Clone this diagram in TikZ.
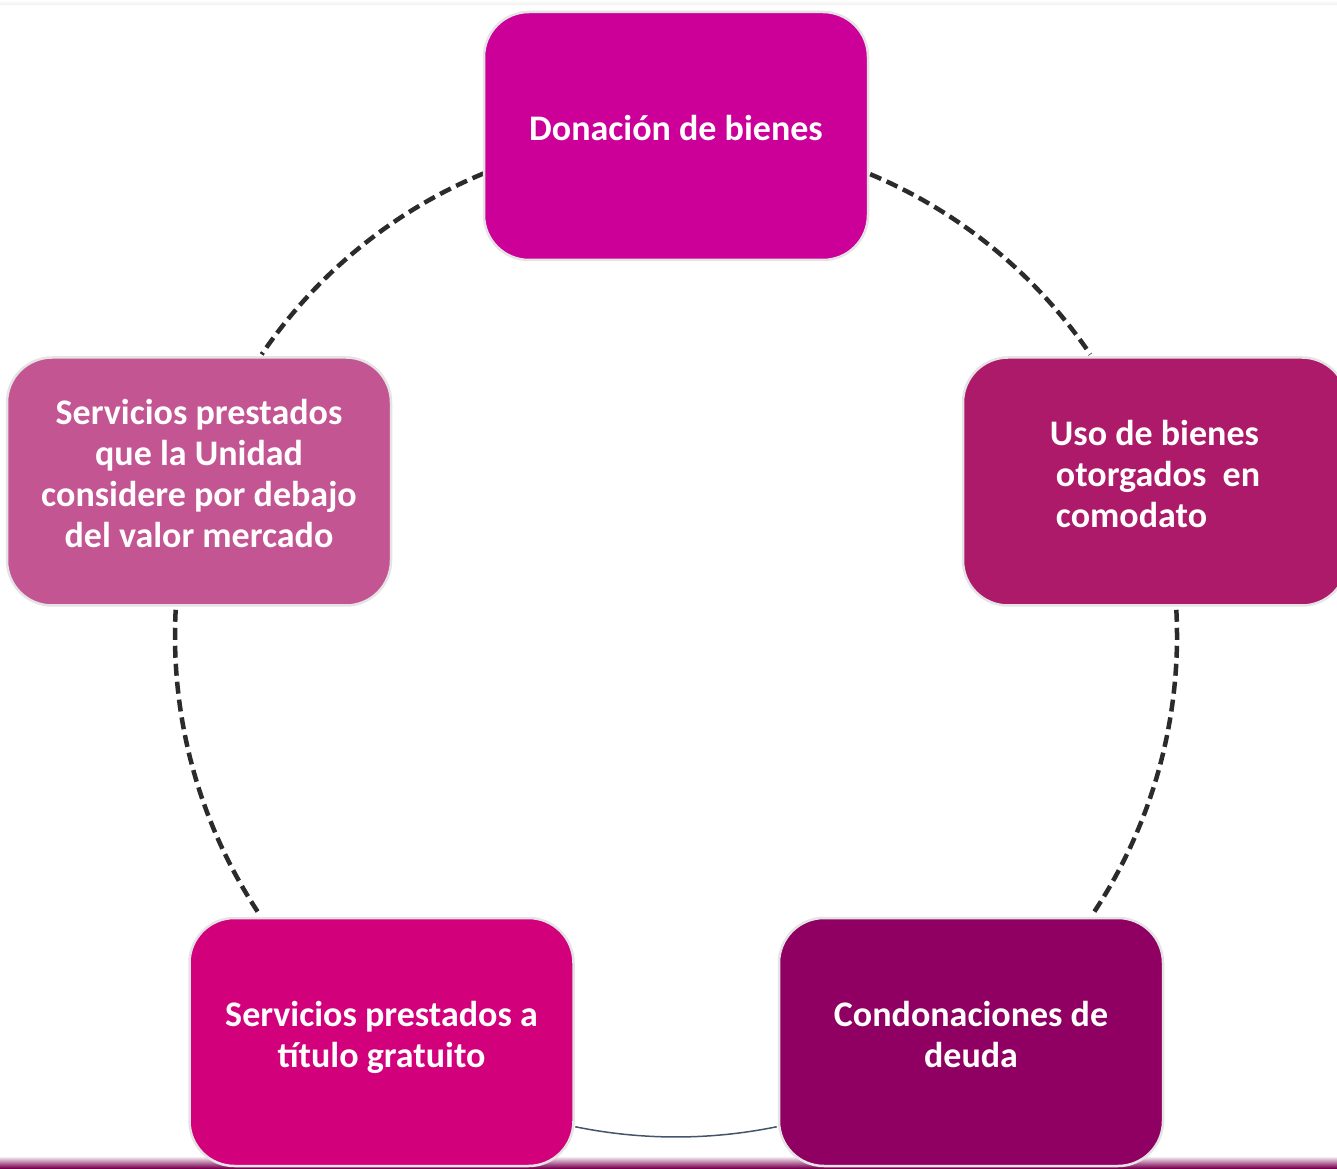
\documentclass[tikz,border=0pt]{standalone}
\usepackage{fontspec}
\setmainfont{Carlito}
\definecolor{donaColor}{HTML}{CC0099}
\definecolor{usoColor}{HTML}{AD1A6A}
\definecolor{condColor}{HTML}{900063}
\definecolor{gratColor}{HTML}{D3007C}
\definecolor{debaColor}{HTML}{C45593}
\definecolor{boxEdge}{HTML}{E4E4E4}
\definecolor{ringGray}{HTML}{2B2B2B}
\definecolor{slateLine}{HTML}{44546A}
\definecolor{stripColor}{HTML}{7A0052}

\begin{document}
\begin{tikzpicture}[x=1pt,y=1pt,
  item/.style={draw=boxEdge,line width=2.5pt,rounded corners=45pt,
    minimum width=384pt,minimum height=248pt,inner sep=0pt,text depth=16pt,
    text=white,align=center,font=\bfseries\fontsize{36}{41}\selectfont},
  ring/.style={ringGray,line width=4.5pt,dash pattern=on 12pt off 6pt},
  thinring/.style={slateLine,line width=1.5pt}]
\def\R{501} % radius of the cycle
\useasboundingbox (0,0) rectangle (1337,1168);
% slide strips
\shade[top color=white,bottom color=stripColor] (0,0) rectangle (1337,12);
\shade[top color=white,bottom color=black!6] (0,1163) rectangle (1337,1168);
\coordinate (O) at (676,532);
% cycle
\draw[ring] (O) ++(112.6:\R) arc[start angle=112.6,end angle=145.8,radius=\R];
\draw[ring] (O) ++(67.2:\R) arc[start angle=67.2,end angle=34.2,radius=\R];
\draw[ring] (O) ++(3:\R) arc[start angle=3,end angle=-33.7,radius=\R];
\draw[ring] (O) ++(177:\R) arc[start angle=177,end angle=213.7,radius=\R];
\draw[thinring] (O) ++(258.4:\R) arc[start angle=258.4,end angle=281.6,radius=\R];
% items
\node[item,fill=donaColor] (dona) at (676,1032) {Donación de bienes};
\node[item,fill=usoColor,align=left] (uso) at (1155,686.5)
  {Uso de bienes\\\hspace{6pt}otorgados\ \ en\\\hspace{6pt}comodato};
\node[item,fill=debaColor] (deba) at (199,686.5)
  {Servicios prestados\\que la Unidad\\considere por debajo\\del valor mercado};
\node[item,fill=gratColor] (grat) at (381.5,126)
  {Servicios prestados a\\título gratuito};
\node[item,fill=condColor] (cond) at (971,126)
  {Condonaciones de\\deuda};
\end{tikzpicture}
\end{document}
